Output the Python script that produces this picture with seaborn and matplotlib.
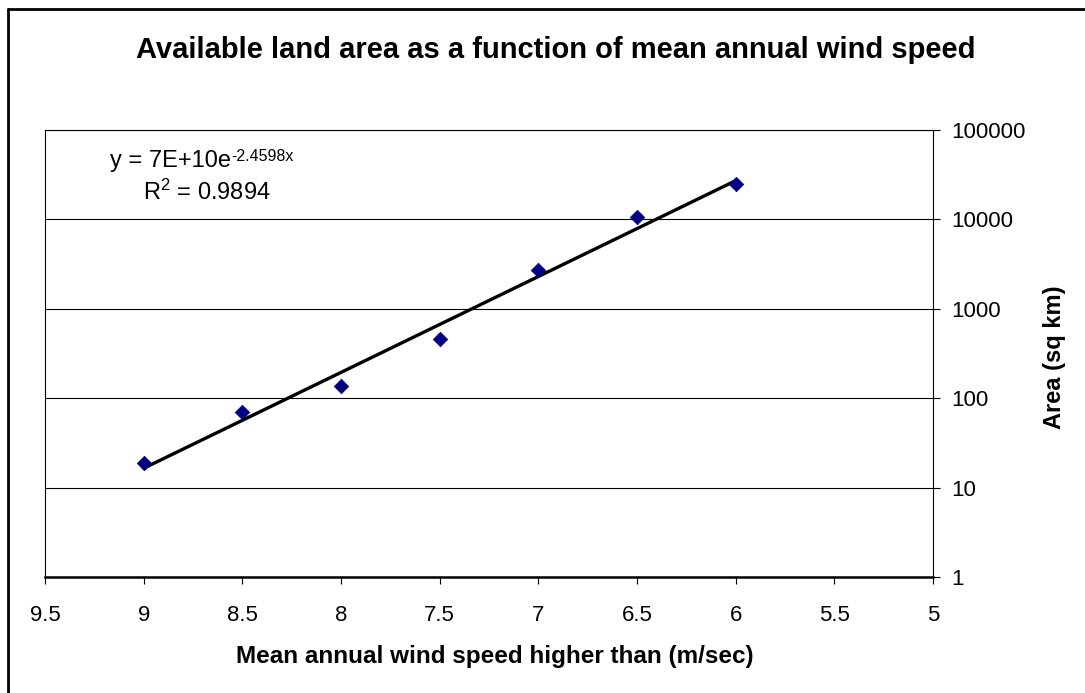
import numpy as np
import pandas as pd
import matplotlib
matplotlib.use("Agg")
import matplotlib.pyplot as plt
import seaborn as sns
from matplotlib.lines import Line2D
from matplotlib.ticker import NullLocator, FixedLocator, FixedFormatter

# ---- data ----
wind_speed = [9.0, 8.5, 8.0, 7.5, 7.0, 6.5, 6.0]
area_sq_km = [19, 70, 137, 455, 2700, 10600, 25000]
x_ticks = [9.5, 9, 8.5, 8, 7.5, 7, 6.5, 6, 5.5, 5]
x_tick_labels = ["9.5", "9", "8.5", "8", "7.5", "7", "6.5", "6", "5.5", "5"]
y_ticks = [1, 10, 100, 1000, 10000, 100000]
y_tick_labels = ["1", "10", "100", "1000", "10000", "100000"]
title = "Available land area as a function of mean annual wind speed"
x_label = "Mean annual wind speed higher than (m/sec)"
y_label = "Area (sq km)"
eq_base = "y = 7E+10e"
eq_exp = "-2.4598x"
r2_text = r"R$^{2}$ = 0.9894"

sns.set_theme(style="white")
plt.rcParams["font.family"] = ["Liberation Sans", "DejaVu Sans"]
plt.rcParams["mathtext.fontset"] = "custom"
plt.rcParams["mathtext.rm"] = "Liberation Sans"
plt.rcParams["mathtext.it"] = "Liberation Sans"
plt.rcParams["mathtext.default"] = "regular"

W, H = 1085, 693
fig = plt.figure(figsize=(W / 100, H / 100), dpi=100)
fig.patch.set_facecolor("white")
ax = fig.add_axes([45 / W, 1 - 577 / H, (933 - 45) / W, (577 - 130) / H])

df = pd.DataFrame({"speed": wind_speed, "area": area_sq_km})

# exponential trend line fitted from the data
coef = np.polyfit(df["speed"], np.log(df["area"]), 1)
xf = np.linspace(max(wind_speed), min(wind_speed), 200)
trend = pd.DataFrame({"speed": xf, "area": np.exp(coef[1] + coef[0] * xf)})

sns.lineplot(data=trend, x="speed", y="area", color="black", lw=2.4, ax=ax, zorder=3)
sns.scatterplot(data=df, x="speed", y="area", marker="D", s=55, color="#000080",
                edgecolor="#000080", linewidth=0.5, ax=ax, zorder=4)

ax.set_yscale("log")
ax.set_xlim(9.5, 5)
ax.set_ylim(1, 1e5)

ax.xaxis.set_major_locator(FixedLocator(x_ticks))
ax.xaxis.set_major_formatter(FixedFormatter(x_tick_labels))
ax.yaxis.tick_right()
ax.yaxis.set_label_position("right")
ax.yaxis.set_major_locator(FixedLocator(y_ticks))
ax.yaxis.set_major_formatter(FixedFormatter(y_tick_labels))
ax.yaxis.set_minor_locator(NullLocator())
ax.xaxis.set_minor_locator(NullLocator())

ax.grid(False)
ax.grid(axis="y", which="major", color="black", lw=0.8)

for side in ["left", "right", "top"]:
    ax.spines[side].set_visible(True)
    ax.spines[side].set_color("black")
    ax.spines[side].set_linewidth(0.8)
ax.spines["bottom"].set_color("black")
ax.spines["bottom"].set_linewidth(1.8)

ax.tick_params(axis="x", direction="out", length=5, width=0.8, color="black",
               labelsize=16, pad=15, bottom=True, labelcolor="black")
ax.tick_params(axis="y", direction="out", length=5, width=0.8, color="black",
               labelsize=16, pad=8, right=True, left=False, labelcolor="black")

ax.set_xlabel(x_label, fontsize=17.5, fontweight="bold", color="black")
ax.xaxis.set_label_coords((495 - 45) / 888, -(657 - 577) / 447)
ax.xaxis.label.set_va("center")
ax.set_ylabel(y_label, fontsize=17, fontweight="bold", color="black", rotation=90)
ax.yaxis.set_label_coords((1055 - 45) / 888, 1 - (357 - 130) / 447)
ax.yaxis.label.set_va("center")

fig.text(556 / W, 1 - 50 / H, title, ha="center", va="center", fontsize=21,
         fontweight="bold", color="black")

# trend line equation (superscript as separate text piece, hyphen kept)
t1 = fig.text(110 / W, 1 - 167 / H, eq_base, ha="left", va="baseline", fontsize=17,
              color="black")
ax.annotate(eq_exp, xy=(1, 0), xycoords=t1, xytext=(0.5, 8), textcoords="offset points",
            ha="left", va="baseline", fontsize=11.5, color="black")
fig.text(143 / W, 1 - 200 / H, r2_text, ha="left", va="baseline", fontsize=17,
         color="black")

# figure border (top and left edges visible)
fig.add_artist(Line2D([7.5 / W, 7.5 / W], [0, 1 - 9 / H], transform=fig.transFigure,
                      color="black", lw=2))
fig.add_artist(Line2D([7.5 / W, 1], [1 - 9 / H, 1 - 9 / H], transform=fig.transFigure,
                      color="black", lw=2))

fig.savefig("out.png", dpi=100, facecolor="white")
